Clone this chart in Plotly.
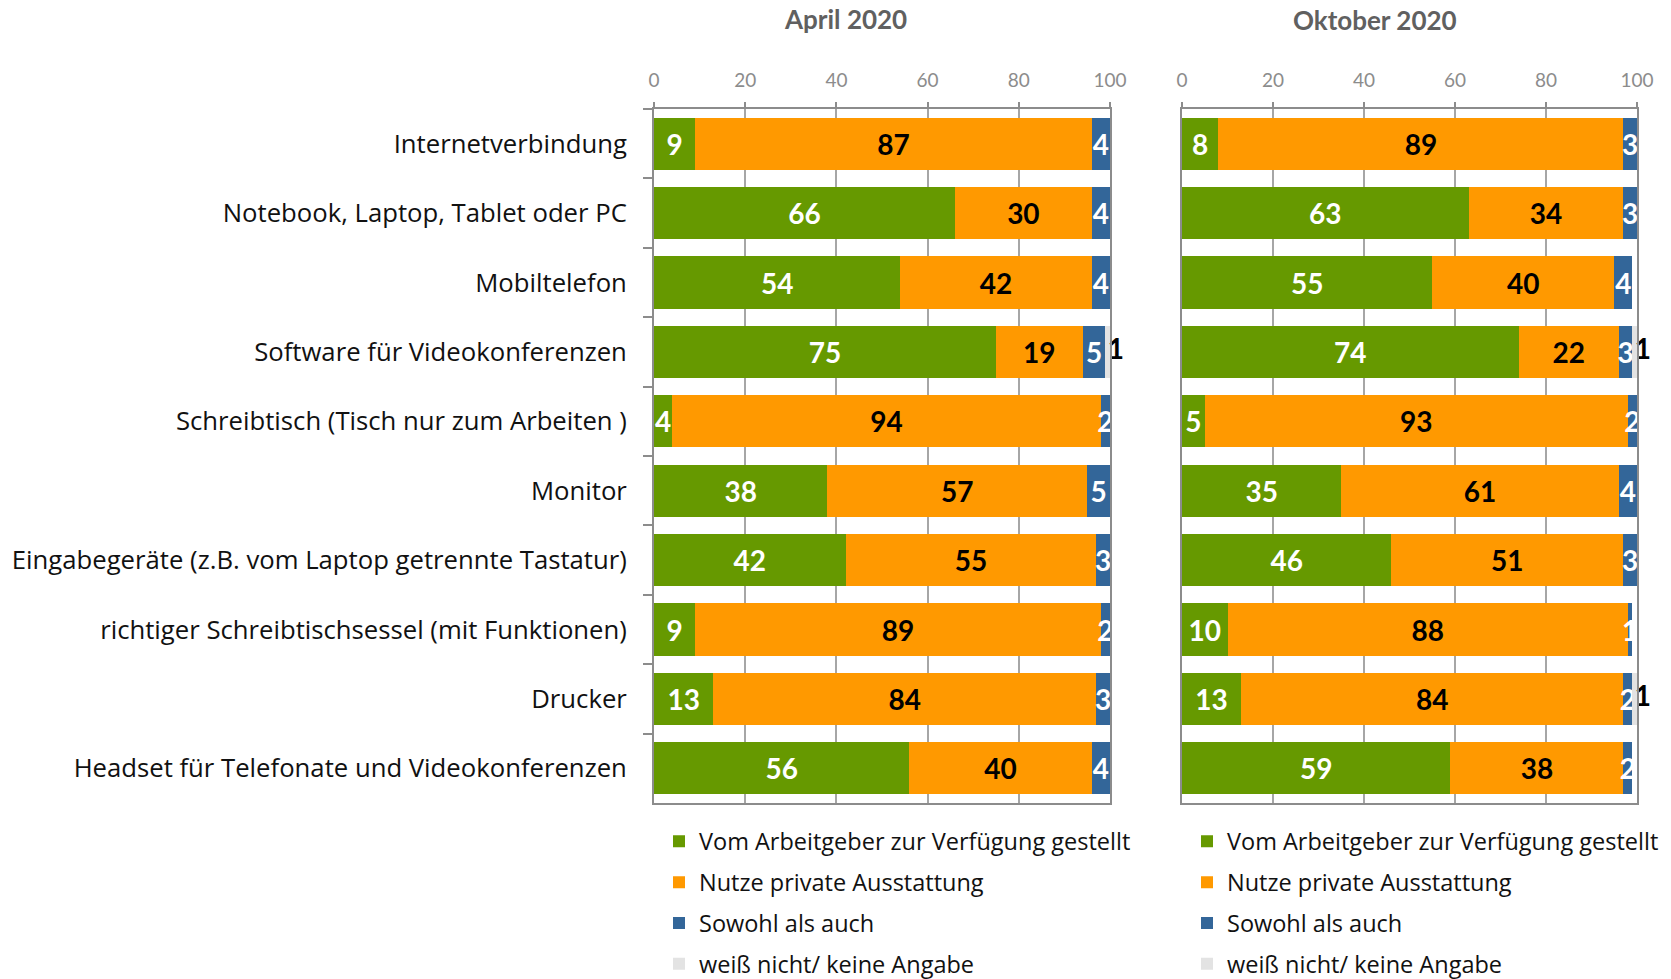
import plotly.graph_objects as go
import numpy as np

categories = [
    "Internetverbindung",
    "Notebook, Laptop, Tablet oder PC",
    "Mobiltelefon",
    "Software für Videokonferenzen",
    "Schreibtisch (Tisch nur zum Arbeiten )",
    "Monitor",
    "Eingabegeräte (z.B. vom Laptop getrennte Tastatur)",
    "richtiger Schreibtischsessel (mit Funktionen)",
    "Drucker",
    "Headset für Telefonate und Videokonferenzen",
]
series_names = [
    "Vom Arbeitgeber zur Verfügung gestellt",
    "Nutze private Ausstattung",
    "Sowohl als auch",
    "weiß nicht/ keine Angabe",
]
panel_titles = ["April 2020", "Oktober 2020"]

april_arbeitgeber = [9, 66, 54, 75, 4, 38, 42, 9, 13, 56]
april_privat = [87, 30, 42, 19, 94, 57, 55, 89, 84, 40]
april_beides = [4, 4, 4, 5, 2, 5, 3, 2, 3, 4]
april_weissnicht = [0, 0, 0, 1, 0, 0, 1, 0, 0, 0]

oktober_arbeitgeber = [8, 63, 55, 74, 5, 35, 46, 10, 13, 59]
oktober_privat = [89, 34, 40, 22, 93, 61, 51, 88, 84, 38]
oktober_beides = [3, 3, 4, 3, 2, 4, 3, 1, 2, 2]
oktober_weissnicht = [0, 0, 0, 1, 0, 0, 1, 0, 1, 0]

x_ticks = [0, 20, 40, 60, 80, 100]

colors = ["#669900", "#FF9900", "#336699", "#E3E3E3"]
label_colors = ["white", "black", "white", "black"]

# figure fills the whole 1671x979 page (body margin removed below)
FW, FH = 1671, 979


def px(x):
    return x / FW


def py(y):
    return 1 - y / FH


NUM_FONT = "Lato"
TXT_FONT = "Open Sans"

panels = [
    dict(data=[april_arbeitgeber, april_privat, april_beides, april_weissnicht],
         xa="x", ya="y", legend="legend"),
    dict(data=[oktober_arbeitgeber, oktober_privat, oktober_beides, oktober_weissnicht],
         xa="x2", ya="y2", legend="legend2"),
]

fig = go.Figure()
for p in panels:
    arr = np.array(p["data"], dtype=float)
    starts = np.vstack([np.zeros(arr.shape[1]), np.cumsum(arr, axis=0)[:-1]])
    n = len(series_names)
    for i, name in enumerate(series_names):
        last = i == n - 1
        texts = [str(int(v)) if (v > 0 and not last) else "" for v in arr[i]]
        fig.add_trace(go.Bar(
            y=categories, x=arr[i], orientation="h", name=name,
            marker=dict(color=colors[i], line=dict(width=0)),
            text=texts, textposition="inside", insidetextanchor="middle",
            textangle=0, constraintext="none",
            insidetextfont=dict(family=NUM_FONT, size=28, color=label_colors[i],
                                weight="bold"),
            xaxis=p["xa"], yaxis=p["ya"], legend=p["legend"],
            legendgroup=p["legend"] + str(i), hoverinfo="skip",
        ))
    # labels of the small "weiß nicht" segments sit just beyond the bar end
    vals = arr[n - 1]
    fig.add_trace(go.Scatter(
        x=starts[n - 1] + vals / 2, y=categories, mode="text",
        text=[str(int(v)) if v > 0 else "" for v in vals],
        textposition="middle right",
        textfont=dict(family=NUM_FONT, size=28, color=label_colors[n - 1], weight="bold"),
        cliponaxis=False, showlegend=False, hoverinfo="skip",
        xaxis=p["xa"], yaxis=p["ya"],
    ))

ydom = [py(803), py(109)]
xdoms = [[px(654), px(1110)], [px(1182), px(1637)]]

axis_line = "#8C8C8C"
grid = "#A6A6A6"
xcommon = dict(
    range=[0, 100], side="top", tickvals=x_ticks, showgrid=True, gridcolor=grid,
    gridwidth=1.5, showline=True, linecolor=axis_line, linewidth=2, mirror=True,
    ticks="outside", ticklen=5, tickwidth=2, tickcolor=axis_line, zeroline=False,
    ticklabelstandoff=7,
    tickfont=dict(family=NUM_FONT, size=19, color="#8C8C8C"), fixedrange=True,
)
ycommon = dict(
    type="category", categoryorder="array", categoryarray=categories,
    autorange="reversed", domain=ydom, showline=True, linecolor=axis_line,
    linewidth=2, mirror=True, showgrid=False, zeroline=False, fixedrange=True,
)

legend_common = dict(
    xanchor="left", yanchor="top", traceorder="grouped", tracegroupgap=7.3,
    bgcolor="rgba(0,0,0,0)", font=dict(family=TXT_FONT, size=23.5, color="#111111"),
)

fig.update_layout(
    width=FW, height=FH, template="none",
    margin=dict(l=0, r=0, t=0, b=0, autoexpand=False),
    paper_bgcolor="white", plot_bgcolor="white",
    barmode="stack", bargap=0.25,
    font=dict(family=TXT_FONT, color="#111111"),
    xaxis=dict(domain=xdoms[0], anchor="y", **xcommon),
    xaxis2=dict(domain=xdoms[1], anchor="y2", **xcommon),
    yaxis=dict(anchor="x", ticks="outside", tickson="boundaries", ticklen=9,
               tickwidth=2, tickcolor=axis_line, ticklabelstandoff=20,
               tickfont=dict(family=TXT_FONT, size=25.7, color="#111111"), **ycommon),
    yaxis2=dict(anchor="x2", ticks="", showticklabels=False, **ycommon),
    legend=dict(x=px(659), y=py(819.5), **legend_common),
    legend2=dict(x=px(1187), y=py(819.5), **legend_common),
)

title_pos = [(845, 19), (1375, 20)]
for t, (xc, yc) in zip(panel_titles, title_pos):
    fig.add_annotation(text=t, x=px(xc), y=py(yc), xref="paper", yref="paper",
                       showarrow=False, xanchor="center", yanchor="middle",
                       font=dict(family=NUM_FONT, size=26, color="#606060", weight="bold"))

fig.write_html(
    "out.html",
    config={"displayModeBar": False},
    post_script="document.body.style.margin='0px';document.body.style.overflow='hidden';",
)
